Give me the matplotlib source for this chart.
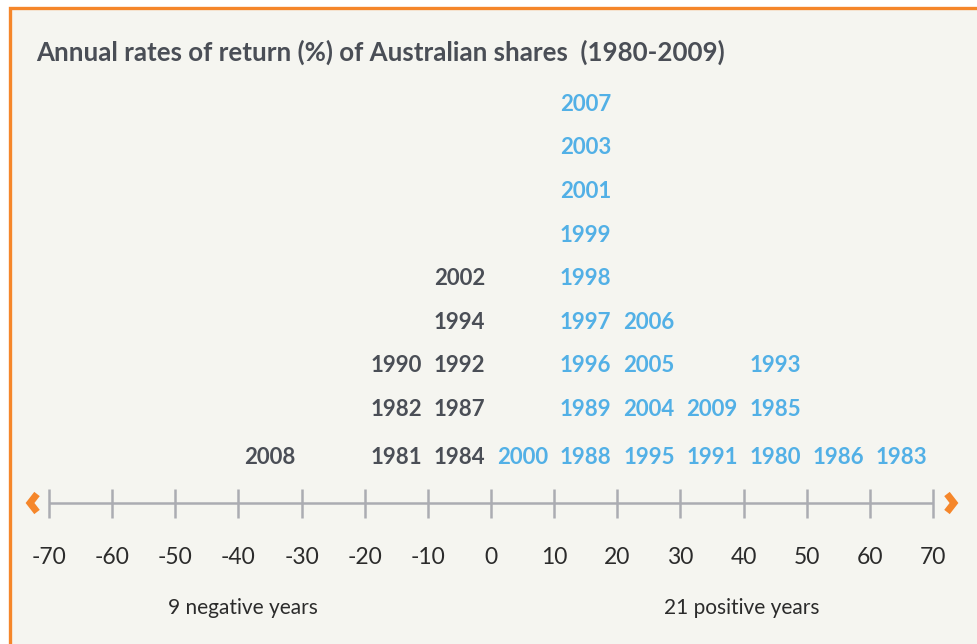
import matplotlib.pyplot as plt
from matplotlib.patches import Rectangle

# Years grouped by 10% return band (left edge of the band)
bands = [-40, -20, -10, 0, 10, 20, 30, 40, 50, 60]
years = [
    [2008],
    [1981, 1982, 1990],
    [1984, 1987, 1992, 1994, 2002],
    [2000],
    [1988, 1989, 1996, 1997, 1998, 1999, 2001, 2003, 2007],
    [1995, 2004, 2005, 2006],
    [1991, 2009],
    [1980, 1985, 1993],
    [1986],
    [1983],
]
ticks = list(range(-70, 71, 10))
title = 'Annual rates of return (%) of Australian shares  (1980-2009)'
neg_label = '9 negative years'
pos_label = '21 positive years'

W, H = 978, 644
orange = '#f5862a'
bg = '#f5f5f0'
grey_txt = '#4a4e56'
blue_txt = '#52b0e6'
axis_col = '#abacb2'

plt.rcParams['font.family'] = ['Lato', 'DejaVu Sans']

fig = plt.figure(figsize=(W / 100, H / 100), dpi=100)
fig.patch.set_facecolor('white')

# panel with orange top/left border
fig.patches.append(Rectangle((9.5 / W, -0.1), 1.2, (H - 8.5) / H + 0.1,
                             transform=fig.transFigure, facecolor=bg,
                             edgecolor=orange, linewidth=2.4, zorder=0))

ax = fig.add_axes([0, 0, 1, 1])
ax.set_zorder(2)
ax.set_axis_off()
ax.patch.set_alpha(0)
px = 6.314  # pixels per percentage point
zero_px = 491
ax.set_xlim(-zero_px / px, (W - zero_px) / px)
ax.set_ylim(H, 0)  # y in pixels from top

ax.text(36 / px - zero_px / px, 52, title, fontsize=18.6, fontweight='bold',
        color='#4a4e56', va='center', ha='left')

# stacked year labels
row0 = 457.5
row_step = 43.6
for b, ys in zip(bands, years):
    col = blue_txt if b >= 0 else grey_txt
    for i, yr in enumerate(ys):
        y = row0 - i * row_step - (4.4 if i > 0 else 0)
        ax.text(b + 5, y, str(yr), ha='center', va='center', fontsize=16,
                fontweight='bold', color=col)

# number line
axis_y = 503
ax.plot([ticks[0], ticks[-1]], [axis_y, axis_y], color=axis_col, lw=1.8,
        solid_capstyle='butt')
for t in ticks:
    ax.plot([t, t], [axis_y - 14, axis_y + 15], color=axis_col, lw=1.8,
            solid_capstyle='butt')
    ax.text(t, 558, str(t), ha='center', va='center', fontsize=16.5,
            color='#2b2b2b')

# chevrons at the ends
cw = 7 / px
for tip, sgn in [(ticks[0] - 19 / px, 1), (ticks[-1] + 21 / px, -1)]:
    ax.plot([tip + sgn * cw, tip, tip + sgn * cw],
            [axis_y - 9, axis_y, axis_y + 9], color=orange, lw=5,
            solid_joinstyle='miter', solid_capstyle='butt')

ax.text(-39.3, 608, neg_label, ha='center', va='center', fontsize=15,
        color='#2b2b2b')
ax.text(39.7, 608, pos_label, ha='center', va='center', fontsize=15,
        color='#2b2b2b')

fig.savefig('out.png', dpi=100, facecolor=fig.get_facecolor())
